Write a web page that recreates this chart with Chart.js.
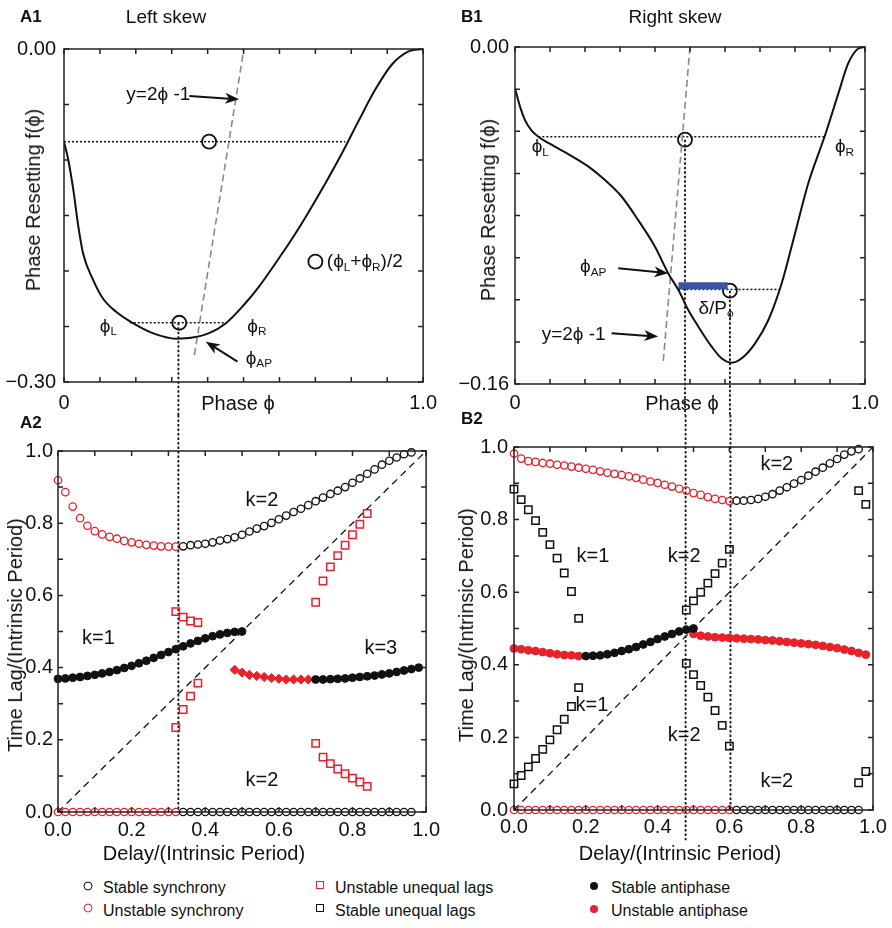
<!DOCTYPE html>
<html>
<head>
<meta charset="utf-8">
<script src="https://cdn.jsdelivr.net/npm/chart.js@4.4.0/dist/chart.umd.min.js"></script>
<style>
  body { margin: 0; background: #fff; font-family: "Liberation Sans", Arial, Helvetica, sans-serif; color: #111; }
  #fig { position: relative; width: 892px; height: 928px; overflow: hidden; }
  canvas { position: absolute; }
  .t { position: absolute; white-space: nowrap; line-height: 1; transform: translate(-50%, -50%); }
  .tl { position: absolute; white-space: nowrap; line-height: 1; transform: translate(0, -50%); }
  .rot { transform: translate(-50%, -50%) rotate(-90deg); }
  .panel { font-weight: bold; font-size: 17px; }
  .head { font-size: 19px; }
  .ax { font-size: 20px; }
  .leg { font-size: 16px; }
  .mk { position: absolute; box-sizing: border-box; transform: translate(-50%, -50%); }
</style>
</head>
<body>
<div id="fig">
  <canvas id="a1" width="446" height="415" style="left:0;top:0"></canvas>
  <canvas id="b1" width="446" height="415" style="left:446px;top:0"></canvas>
  <canvas id="a2" width="446" height="460" style="left:0;top:415px"></canvas>
  <canvas id="b2" width="446" height="460" style="left:446px;top:415px"></canvas>

  <div class="tl panel" style="left:20px;top:16px">A1</div>
  <div class="t head" style="left:166px;top:16px">Left skew</div>
  <div class="tl panel" style="left:461px;top:16px">B1</div>
  <div class="t head" style="left:675px;top:16px">Right skew</div>
  <div class="tl panel" style="left:20px;top:422px">A2</div>
  <div class="tl panel" style="left:461px;top:418px">B2</div>

  <div class="t ax rot" style="left:33px;top:200px">Phase Resetting f(ϕ)</div>
  <div class="t ax rot" style="left:488px;top:210px">Phase Resetting f(ϕ)</div>
  <div class="t ax" style="left:238px;top:403px">Phase ϕ</div>
  <div class="t ax" style="left:682px;top:403px">Phase ϕ</div>
  <div class="t ax rot" style="left:15px;top:635px">Time Lag/(Intrinsic Period)</div>
  <div class="t ax rot" style="left:466px;top:625px">Time Lag/(Intrinsic Period)</div>
  <div class="t ax" style="left:204px;top:853px">Delay/(Intrinsic Period)</div>
  <div class="t ax" style="left:680px;top:853px">Delay/(Intrinsic Period)</div>

  <span class="mk" style="left:88px;top:886px;width:9px;height:9px;border:1.5px solid #111;border-radius:50%"></span>
  <div class="tl leg" style="left:103px;top:888px">Stable synchrony</div>
  <span class="mk" style="left:88px;top:908px;width:9px;height:9px;border:1.5px solid #e8212b;border-radius:50%"></span>
  <div class="tl leg" style="left:103px;top:911px">Unstable synchrony</div>
  <span class="mk" style="left:320px;top:885px;width:8px;height:8px;border:1.5px solid #e8212b"></span>
  <div class="tl leg" style="left:335px;top:888px">Unstable unequal lags</div>
  <span class="mk" style="left:320px;top:908px;width:8px;height:8px;border:1.5px solid #111"></span>
  <div class="tl leg" style="left:335px;top:911px">Stable unequal lags</div>
  <span class="mk" style="left:594px;top:886px;width:8px;height:8px;background:#111;border-radius:50%"></span>
  <div class="tl leg" style="left:611px;top:888px">Stable antiphase</div>
  <span class="mk" style="left:594px;top:909px;width:8px;height:8px;background:#e8212b;border-radius:50%"></span>
  <div class="tl leg" style="left:611px;top:911px">Unstable antiphase</div>
</div>

<script>
const FONT = '"Liberation Sans", Arial, Helvetica, sans-serif';
const INK = '#111';
const RED = '#e8212b';
const BLUE = '#3b53a3';
const GREY = '#8a8a8a';

// ---- A1: left skew PRC ----
const a1Phase = [0, 0.012, 0.026, 0.040, 0.053, 0.081, 0.109, 0.146, 0.192, 0.247, 0.312, 0.358, 0.404,
  0.451, 0.497, 0.543, 0.589, 0.635, 0.681, 0.728, 0.774, 0.820, 0.866, 0.912, 0.958, 1.0];
const a1Reset = [-0.0835, -0.100, -0.127, -0.160, -0.184, -0.208, -0.225, -0.237, -0.247, -0.256, -0.261, -0.260, -0.256,
  -0.247, -0.232, -0.214, -0.193, -0.171, -0.147, -0.121, -0.094, -0.065, -0.037, -0.0144, -0.0024, 0];
const a1LinePhase = [0.363, 0.501];
const a1LineReset = [-0.2757, 0];
const a1RingPhase = [0.404, 0.321];
const a1RingReset = [-0.0835, -0.2466];

// ---- B1: right skew PRC ----
const b1Phase = [0, 0.0143, 0.0286, 0.0476, 0.0667, 0.114, 0.162, 0.210, 0.257, 0.305, 0.352, 0.400, 0.438, 0.467, 0.495,
  0.524, 0.562, 0.590, 0.619, 0.648, 0.686, 0.724, 0.762, 0.800, 0.838, 0.886, 0.924, 0.952, 0.981, 1.0];
const b1Reset = [-0.0196, -0.0283, -0.0347, -0.0397, -0.0426, -0.0473, -0.0518, -0.0568, -0.0632, -0.0711, -0.0822, -0.0948,
  -0.1075, -0.1154, -0.1249, -0.1328, -0.1423, -0.1478, -0.1499, -0.1478, -0.1407, -0.1296, -0.1122, -0.0885, -0.0647,
  -0.0418, -0.0220, -0.0078, -0.0007, 0];
const b1LinePhase = [0.4237, 0.5];
const b1LineReset = [-0.149, 0];
const b1RingPhase = [0.4857, 0.614];
const b1RingReset = [-0.044, -0.1157];
const b1BarPhase = [0.467, 0.6076];
const b1BarReset = [-0.1133, -0.1133];

// ---- A2: time lag vs delay, left skew ----
const a2SyncUnstX = [0, 0.02, 0.04, 0.06, 0.08, 0.10, 0.12, 0.14, 0.16, 0.18, 0.20, 0.22, 0.24, 0.26, 0.28, 0.30, 0.32];
const a2SyncUnstHigh = [0.919, 0.886, 0.846, 0.814, 0.793, 0.778, 0.769, 0.762, 0.757, 0.751, 0.747, 0.743, 0.740, 0.738, 0.736, 0.735, 0.735];
const a2SyncUnstLow = [0, 0, 0, 0, 0, 0, 0, 0, 0, 0, 0, 0, 0, 0, 0, 0, 0];
const a2SyncStabX = [0.34, 0.36, 0.38, 0.40, 0.42, 0.44, 0.46, 0.48, 0.50, 0.52, 0.54, 0.56, 0.58, 0.60, 0.62, 0.64,
  0.66, 0.68, 0.70, 0.72, 0.74, 0.76, 0.78, 0.80, 0.82, 0.84, 0.86, 0.88, 0.90, 0.92, 0.94, 0.96];
const a2SyncStabHigh = [0.736, 0.739, 0.741, 0.743, 0.747, 0.752, 0.756, 0.761, 0.768, 0.777, 0.785, 0.792, 0.801, 0.811,
  0.821, 0.831, 0.840, 0.850, 0.861, 0.871, 0.881, 0.890, 0.900, 0.912, 0.924, 0.937, 0.949, 0.962, 0.973, 0.982, 0.991, 0.996];
const a2SyncStabLow = [0, 0, 0, 0, 0, 0, 0, 0, 0, 0, 0, 0, 0, 0, 0, 0, 0, 0, 0, 0, 0, 0, 0, 0, 0, 0, 0, 0, 0, 0, 0, 0];
const a2AntiK1X = [0, 0.02, 0.04, 0.06, 0.08, 0.10, 0.12, 0.14, 0.16, 0.18, 0.20, 0.22, 0.24, 0.26, 0.28, 0.30, 0.32,
  0.34, 0.36, 0.38, 0.40, 0.42, 0.44, 0.46, 0.48, 0.50];
const a2AntiK1 = [0.369, 0.370, 0.372, 0.374, 0.377, 0.380, 0.384, 0.388, 0.393, 0.399, 0.405, 0.412, 0.419, 0.427, 0.435,
  0.443, 0.451, 0.459, 0.467, 0.474, 0.481, 0.487, 0.492, 0.496, 0.499, 0.500];
const a2AntiK3X = [0.70, 0.72, 0.74, 0.76, 0.78, 0.80, 0.82, 0.84, 0.86, 0.88, 0.90, 0.92, 0.94, 0.96, 0.98];
const a2AntiK3 = [0.367, 0.367, 0.368, 0.369, 0.370, 0.372, 0.374, 0.376, 0.378, 0.381, 0.384, 0.388, 0.392, 0.396, 0.400];
const a2AntiUnstX = [0.48, 0.50, 0.52, 0.54, 0.56, 0.58, 0.60, 0.62, 0.64, 0.66, 0.68];
const a2AntiUnst = [0.394, 0.386, 0.380, 0.377, 0.374, 0.371, 0.369, 0.367, 0.367, 0.367, 0.367];
const a2UneqX = [0.32, 0.34, 0.36, 0.38, 0.32, 0.34, 0.36, 0.38,
  0.70, 0.72, 0.74, 0.76, 0.78, 0.80, 0.82, 0.84, 0.70, 0.72, 0.74, 0.76, 0.78, 0.80, 0.82, 0.84];
const a2Uneq = [0.555, 0.540, 0.529, 0.525, 0.234, 0.284, 0.321, 0.357,
  0.581, 0.640, 0.679, 0.710, 0.739, 0.768, 0.797, 0.827, 0.190, 0.152, 0.134, 0.119, 0.106, 0.094, 0.083, 0.071];

// ---- B2: time lag vs delay, right skew ----
const b2SyncUnstX = [0, 0.02, 0.04, 0.06, 0.08, 0.10, 0.12, 0.14, 0.16, 0.18, 0.20, 0.22, 0.24, 0.26, 0.28, 0.30,
  0.32, 0.34, 0.36, 0.38, 0.40, 0.42, 0.44, 0.46, 0.48, 0.50, 0.52, 0.54, 0.56, 0.58, 0.60];
const b2SyncUnstHigh = [0.982, 0.968, 0.961, 0.959, 0.956, 0.954, 0.951, 0.949, 0.946, 0.943, 0.940, 0.937, 0.933, 0.929,
  0.926, 0.923, 0.919, 0.915, 0.910, 0.905, 0.901, 0.896, 0.891, 0.885, 0.880, 0.873, 0.868, 0.862, 0.857, 0.854, 0.851];
const b2SyncUnstLow = [0, 0, 0, 0, 0, 0, 0, 0, 0, 0, 0, 0, 0, 0, 0, 0, 0, 0, 0, 0, 0, 0, 0, 0, 0, 0, 0, 0, 0, 0, 0];
const b2SyncStabX = [0.62, 0.64, 0.66, 0.68, 0.70, 0.72, 0.74, 0.76, 0.78, 0.80, 0.82, 0.84, 0.86, 0.88, 0.90, 0.92, 0.94, 0.96];
const b2SyncStabHigh = [0.852, 0.852, 0.854, 0.857, 0.863, 0.870, 0.880, 0.889, 0.899, 0.909, 0.921, 0.932, 0.943, 0.955,
  0.967, 0.979, 0.988, 0.994];
const b2SyncStabLow = [0, 0, 0, 0, 0, 0, 0, 0, 0, 0, 0, 0, 0, 0, 0, 0, 0, 0];
const b2AntiStabX = [0.20, 0.22, 0.24, 0.26, 0.28, 0.30, 0.32, 0.34, 0.36, 0.38, 0.40, 0.42, 0.44, 0.46, 0.48, 0.50];
const b2AntiStab = [0.424, 0.425, 0.426, 0.429, 0.433, 0.438, 0.443, 0.449, 0.456, 0.463, 0.471, 0.478, 0.485, 0.492, 0.497, 0.500];
const b2AntiUnstX = [0, 0.02, 0.04, 0.06, 0.08, 0.10, 0.12, 0.14, 0.16, 0.18,
  0.50, 0.52, 0.54, 0.56, 0.58, 0.60, 0.62, 0.64, 0.66, 0.68, 0.70, 0.72, 0.74, 0.76, 0.78, 0.80, 0.82, 0.84, 0.86,
  0.88, 0.90, 0.92, 0.94, 0.96, 0.98];
const b2AntiUnst = [0.445, 0.443, 0.440, 0.438, 0.435, 0.432, 0.429, 0.427, 0.426, 0.424,
  0.485, 0.480, 0.478, 0.476, 0.475, 0.474, 0.473, 0.472, 0.471, 0.470, 0.468, 0.467, 0.465, 0.463, 0.461, 0.459,
  0.457, 0.455, 0.452, 0.449, 0.446, 0.442, 0.438, 0.433, 0.428];
const b2UneqX = [0, 0.02, 0.04, 0.06, 0.08, 0.10, 0.12, 0.14, 0.16, 0.18, 0, 0.02, 0.04, 0.06, 0.08, 0.10, 0.12, 0.14, 0.16, 0.18,
  0.48, 0.50, 0.52, 0.54, 0.56, 0.58, 0.60, 0.48, 0.50, 0.52, 0.54, 0.56, 0.58, 0.60, 0.96, 0.98, 0.96, 0.98];
const b2Uneq = [0.884, 0.855, 0.827, 0.797, 0.765, 0.731, 0.694, 0.653, 0.602, 0.528,
  0.072, 0.095, 0.119, 0.142, 0.167, 0.193, 0.221, 0.250, 0.285, 0.337,
  0.551, 0.576, 0.600, 0.625, 0.651, 0.680, 0.718, 0.404, 0.373, 0.343, 0.311, 0.274, 0.233, 0.176,
  0.880, 0.842, 0.075, 0.106];

const diagX = [0, 1];
const diagY = [0, 1];

function pts(xs, ys) { return xs.map((x, i) => ({ x: x, y: ys[i] })); }

function arrow(ctx, x1, y1, x2, y2) {
  const a = Math.atan2(y2 - y1, x2 - x1), c = Math.cos(a), s = Math.sin(a);
  const L = 14, W = 5.5;
  ctx.lineWidth = 2;
  ctx.beginPath(); ctx.moveTo(x1, y1); ctx.lineTo(x2 - c * L * 0.7, y2 - s * L * 0.7); ctx.stroke();
  ctx.beginPath();
  ctx.moveTo(x2, y2);
  ctx.lineTo(x2 - c * L - s * W, y2 - s * L + c * W);
  ctx.lineTo(x2 - c * L * 0.72, y2 - s * L * 0.72);
  ctx.lineTo(x2 - c * L + s * W, y2 - s * L - c * W);
  ctx.closePath(); ctx.fill();
}

// text made of [string, isSubscript] pieces
function rich(ctx, x, y, segs, size, align) {
  const sizeOf = sub => (sub ? size * 0.62 : size);
  let w = 0;
  segs.forEach(([t, sub]) => { ctx.font = sizeOf(sub) + 'px ' + FONT; w += ctx.measureText(t).width; });
  let cx = align === 'center' ? x - w / 2 : x;
  ctx.textAlign = 'left';
  segs.forEach(([t, sub]) => {
    ctx.font = sizeOf(sub) + 'px ' + FONT;
    ctx.fillText(t, cx, sub ? y + size * 0.3 : y);
    cx += ctx.measureText(t).width;
  });
}

const figure = {
  id: 'figure',
  beforeDatasetsDraw(chart, args, o) {
    const { ctx, scales: { x, y } } = chart;
    const py = v => (v === 'top' ? 0 : v === 'bottom' ? chart.height : y.getPixelForValue(v));
    ctx.save();
    (o.guides || []).forEach(g => {
      ctx.strokeStyle = INK;
      ctx.lineWidth = g.w || 1.5;
      ctx.setLineDash(g.dash || [2, 2]);
      ctx.beginPath();
      ctx.moveTo(x.getPixelForValue(g.x[0]), py(g.y[0]));
      ctx.lineTo(x.getPixelForValue(g.x[1]), py(g.y[1]));
      ctx.stroke();
    });
    ctx.restore();
  },
  afterDatasetsDraw(chart, args, o) {
    const { ctx, chartArea: a, scales: { x, y } } = chart;
    ctx.save();
    ctx.fillStyle = INK; ctx.strokeStyle = INK; ctx.setLineDash([]);
    (o.arrows || []).forEach(([x1, y1, x2, y2]) =>
      arrow(ctx, x.getPixelForValue(x1), y.getPixelForValue(y1), x.getPixelForValue(x2), y.getPixelForValue(y2)));
    (o.rings || []).forEach(([vx, vy]) => {
      ctx.lineWidth = 1.8;
      ctx.beginPath(); ctx.arc(x.getPixelForValue(vx), y.getPixelForValue(vy), 7, 0, Math.PI * 2); ctx.stroke();
    });
    ctx.textBaseline = 'middle';
    (o.texts || []).forEach(t =>
      rich(ctx, x.getPixelForValue(t.x), y.getPixelForValue(t.y), t.s, t.size || 19, t.align));
    // box with inward ticks on all four sides
    ctx.lineWidth = 1.5; ctx.strokeStyle = '#222';
    ctx.strokeRect(a.left, a.top, a.right - a.left, a.bottom - a.top);
    const L = 5;
    ctx.beginPath();
    x.ticks.forEach(t => {
      const p = x.getPixelForValue(t.value);
      ctx.moveTo(p, a.bottom); ctx.lineTo(p, a.bottom - L);
      ctx.moveTo(p, a.top); ctx.lineTo(p, a.top + L);
    });
    y.ticks.forEach(t => {
      const p = y.getPixelForValue(t.value);
      ctx.moveTo(a.left, p); ctx.lineTo(a.left + L, p);
      ctx.moveTo(a.right, p); ctx.lineTo(a.right - L, p);
    });
    ctx.stroke();
    ctx.restore();
  }
};

function near(v, w) { return Math.abs(v - w) < 1e-6; }

function axes(o) {
  const tickFont = { family: FONT, size: 20 };
  return {
    x: {
      type: 'linear', min: o.xMin, max: o.xMax,
      grid: { display: false, drawTicks: false }, border: { display: false },
      ticks: { stepSize: o.xStep, autoSkip: false, maxRotation: 0, padding: o.xPad, color: INK, font: tickFont, callback: o.xFmt },
      afterFit: s => { s.height = o.xH; }
    },
    y: {
      type: 'linear', min: o.yMin, max: o.yMax,
      grid: { display: false, drawTicks: false }, border: { display: false },
      ticks: { stepSize: o.yStep, autoSkip: false, padding: o.yPad, color: INK, font: tickFont, callback: o.yFmt },
      afterFit: s => { s.width = o.yW; }
    }
  };
}

function build(id, datasets, scales, padding, fig) {
  new Chart(document.getElementById(id), {
    type: 'scatter',
    data: { datasets: datasets },
    options: {
      responsive: false, animation: false, events: [],
      layout: { padding: padding },
      plugins: { legend: { display: false }, tooltip: { enabled: false }, figure: fig },
      scales: scales
    },
    plugins: [figure]
  });
}

const curve = d => ({ data: d, showLine: true, borderColor: INK, borderWidth: 2, pointRadius: 0, cubicInterpolationMode: 'monotone' });
const dashed = (d, c, w, dash) => ({ data: d, showLine: true, borderColor: c, borderWidth: w, borderDash: dash, pointRadius: 0, clip: false });
const rings = d => ({ data: d, pointRadius: 7, borderWidth: 1.8, borderColor: INK, backgroundColor: 'rgba(0,0,0,0)' });
const openPt = (d, c) => ({ data: d, pointStyle: 'circle', pointRadius: 3.7, borderWidth: 1.3, borderColor: c, backgroundColor: 'rgba(0,0,0,0)', clip: false });
const fillPt = (d, c, style, r) => ({ data: d, pointStyle: style, pointRadius: r, borderWidth: 1, borderColor: c, backgroundColor: c, clip: false });
const square = (d, c) => ({ data: d, pointStyle: 'rect', pointRadius: 5.2, borderWidth: 1.5, borderColor: c, backgroundColor: 'rgba(0,0,0,0)', clip: false });

const phi = '\u03d5';
const edgeFmt = (lo, hi, loTxt, hiTxt) => v => (near(v, lo) ? loTxt : near(v, hi) ? hiTxt : '');
const evenFmt = v => (Math.round(v * 10) % 2 === 0 ? v.toFixed(1) : '');

// A1
build('a1', [
  curve(pts(a1Phase, a1Reset)),
  dashed(pts(a1LinePhase, a1LineReset), GREY, 1.6, [7, 4]),
  rings(pts(a1RingPhase, a1RingReset))
], axes({ xMin: 0, xMax: 1, xStep: 0.1, xPad: 9, xH: 33, xFmt: edgeFmt(0, 1, '0', '1.0'),
  yMin: -0.3, yMax: 0, yStep: 0.05, yPad: 8, yW: 64, yFmt: edgeFmt(-0.3, 0, '\u22120.30', '0.00') }),
{ top: 49, right: 21, left: 0, bottom: 0 },
{
  guides: [
    { x: [0, 0.783], y: [-0.0835, -0.0835] },
    { x: [0.183, 0.451], y: [-0.2466, -0.2466] },
    { x: [0.3186, 0.3186], y: [-0.2466, 'bottom'], w: 1.8, dash: [2.5, 2] }
  ],
  arrows: [[0.349, -0.0423, 0.4875, -0.0453], [0.483, -0.2817, 0.395, -0.2637]],
  rings: [[0.700, -0.1916]],
  texts: [
    { x: 0.1736, y: -0.0414, s: [['y=2' + phi + ' -1']] },
    { x: 0.0997, y: -0.250, s: [[phi], ['L', 1]] },
    { x: 0.5106, y: -0.250, s: [[phi], ['R', 1]] },
    { x: 0.506, y: -0.2787, s: [[phi], ['AP', 1]] },
    { x: 0.732, y: -0.1916, s: [['(' + phi], ['L', 1], ['+' + phi], ['R', 1], [')/2']] }
  ]
});

// B1
build('b1', [
  curve(pts(b1Phase, b1Reset)),
  dashed(pts(b1LinePhase, b1LineReset), GREY, 1.6, [7, 4]),
  { data: pts(b1BarPhase, b1BarReset), showLine: true, borderColor: BLUE, borderWidth: 7, borderCapStyle: 'butt', pointRadius: 0 },
  rings(pts(b1RingPhase, b1RingReset))
], axes({ xMin: 0, xMax: 1, xStep: 0.1, xPad: 7, xH: 31, xFmt: edgeFmt(0, 1, '0', '1.0'),
  yMin: -0.16, yMax: 0, yStep: 0.02, yPad: 6, yW: 69, yFmt: edgeFmt(-0.16, 0, '\u22120.16', '0.00') }),
{ top: 47, right: 27, left: 0, bottom: 0 },
{
  guides: [
    { x: [0.0667, 0.886], y: [-0.0426, -0.0426] },
    { x: [0.467, 0.757], y: [-0.1151, -0.1151] },
    { x: [0.4857, 0.4857], y: [-0.044, 'bottom'], w: 1.8, dash: [2.5, 2] },
    { x: [0.614, 0.614], y: [-0.1157, 'bottom'], w: 1.8, dash: [2.5, 2] }
  ],
  arrows: [[0.295, -0.1051, 0.438, -0.1074], [0.276, -0.1359, 0.409, -0.1375]],
  texts: [
    { x: 0.0476, y: -0.0473, s: [[phi], ['L', 1]] },
    { x: 0.914, y: -0.0473, s: [[phi], ['R', 1]] },
    { x: 0.186, y: -0.1043, s: [[phi], ['AP', 1]] },
    { x: 0.0762, y: -0.1367, s: [['y=2' + phi + ' -1']] },
    { x: 0.524, y: -0.1241, s: [['\u03b4/P'], [phi, 1]] }
  ]
});

// A2
build('a2', [
  dashed(pts(diagX, diagY), INK, 1.3, [7, 5]),
  square(pts(a2UneqX, a2Uneq), RED),
  openPt(pts(a2SyncStabX, a2SyncStabHigh).concat(pts(a2SyncStabX, a2SyncStabLow)), INK),
  openPt(pts(a2SyncUnstX, a2SyncUnstHigh).concat(pts(a2SyncUnstX, a2SyncUnstLow)), RED),
  fillPt(pts(a2AntiK1X, a2AntiK1).concat(pts(a2AntiK3X, a2AntiK3)), INK, 'circle', 3.9),
  fillPt(pts(a2AntiUnstX, a2AntiUnst), RED, 'rectRot', 4.6)
], axes({ xMin: 0, xMax: 1, xStep: 0.1, xPad: 6, xH: 63, xFmt: evenFmt,
  yMin: 0, yMax: 1, yStep: 0.1, yPad: 5, yW: 58, yFmt: evenFmt }),
{ top: 36, right: 17, left: 0, bottom: 0 },
{
  guides: [{ x: [0.327, 0.327], y: ['top', 0], w: 1.8, dash: [2.5, 2] }],
  texts: [
    { x: 0.554, y: 0.863, s: [['k=2']], size: 20, align: 'center' },
    { x: 0.110, y: 0.482, s: [['k=1']], size: 20, align: 'center' },
    { x: 0.877, y: 0.452, s: [['k=3']], size: 20, align: 'center' },
    { x: 0.554, y: 0.086, s: [['k=2']], size: 20, align: 'center' }
  ]
});

// B2
build('b2', [
  dashed(pts(diagX, diagY), INK, 1.3, [7, 5]),
  square(pts(b2UneqX, b2Uneq), INK),
  openPt(pts(b2SyncStabX, b2SyncStabHigh).concat(pts(b2SyncStabX, b2SyncStabLow)), INK),
  openPt(pts(b2SyncUnstX, b2SyncUnstHigh).concat(pts(b2SyncUnstX, b2SyncUnstLow)), RED),
  fillPt(pts(b2AntiStabX, b2AntiStab), INK, 'circle', 3.9),
  fillPt(pts(b2AntiUnstX, b2AntiUnst), RED, 'circle', 3.9)
], axes({ xMin: 0, xMax: 1, xStep: 0.1, xPad: 5, xH: 65, xFmt: evenFmt,
  yMin: 0, yMax: 1, yStep: 0.1, yPad: 6, yW: 68, yFmt: evenFmt }),
{ top: 32, right: 19, left: 0, bottom: 0 },
{
  guides: [
    { x: [0.478, 0.478], y: ['top', -0.083], w: 1.8, dash: [2.5, 2] },
    { x: [0.603, 0.603], y: ['top', 0], w: 1.8, dash: [2.5, 2] }
  ],
  texts: [
    { x: 0.732, y: 0.951, s: [['k=2']], size: 20, align: 'center' },
    { x: 0.220, y: 0.699, s: [['k=1']], size: 20, align: 'center' },
    { x: 0.474, y: 0.699, s: [['k=2']], size: 20, align: 'center' },
    { x: 0.217, y: 0.288, s: [['k=1']], size: 20, align: 'center' },
    { x: 0.474, y: 0.204, s: [['k=2']], size: 20, align: 'center' },
    { x: 0.732, y: 0.078, s: [['k=2']], size: 20, align: 'center' }
  ]
});
</script>
</body>
</html>
